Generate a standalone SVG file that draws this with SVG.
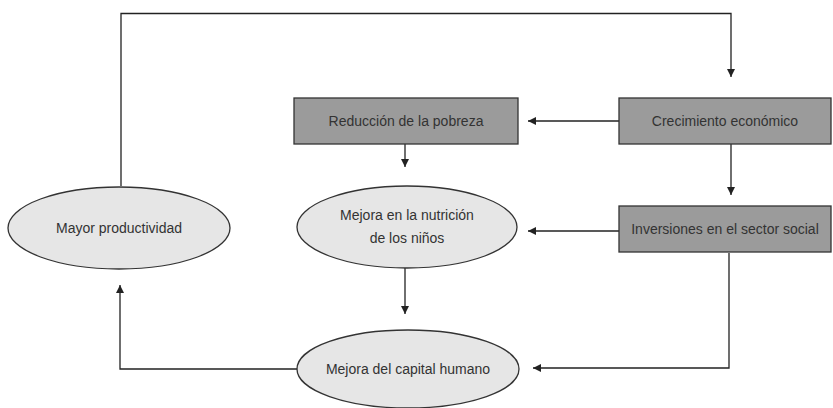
<svg xmlns="http://www.w3.org/2000/svg" width="833" height="408" viewBox="0 0 833 408">
<defs>
<style>
.box{fill:#9b9b9b;stroke:#333;stroke-width:1.3}
.ell{fill:#e6e6e6;stroke:#333;stroke-width:1.3}
.t{font-family:"Liberation Sans",Arial,sans-serif;font-size:14px;fill:#333;text-anchor:middle}
.c{fill:none;stroke:#222;stroke-width:1.3}
</style>
<marker id="ah" viewBox="0 0 10 10" refX="10" refY="5" markerWidth="8" markerHeight="8" markerUnits="userSpaceOnUse" orient="auto">
<path d="M0,0 L10,5 L0,10 Z" fill="#222"/>
</marker>
</defs>
<rect width="833" height="408" fill="#fff"/>
<g id="connectors">
<path class="c" d="M121,186 V13.5 H731 V77" marker-end="url(#ah)"/>
<path class="c" d="M619,121 H528" marker-end="url(#ah)"/>
<path class="c" d="M405,144 V167" marker-end="url(#ah)"/>
<path class="c" d="M731,144 V195" marker-end="url(#ah)"/>
<path class="c" d="M619,231 H528" marker-end="url(#ah)"/>
<path class="c" d="M405,268 V314" marker-end="url(#ah)"/>
<path class="c" d="M729,253 V368 H533" marker-end="url(#ah)"/>
<path class="c" d="M298,369 H120 V285" marker-end="url(#ah)"/>
</g>
<g id="reduccion">
<rect class="box" x="294" y="98" width="224" height="46"/>
<text class="t" x="406" y="126">Reducción de la pobreza</text>
</g>
<g id="crecimiento">
<rect class="box" x="619" y="98" width="212" height="46"/>
<text class="t" x="725" y="126">Crecimiento económico</text>
</g>
<g id="inversiones">
<rect class="box" x="619" y="206" width="212" height="46"/>
<text class="t" x="725" y="234">Inversiones en el sector social</text>
</g>
<g id="productividad">
<ellipse class="ell" cx="119" cy="228" rx="111" ry="41"/>
<text class="t" x="119" y="233">Mayor productividad</text>
</g>
<g id="nutricion">
<ellipse class="ell" cx="407" cy="227" rx="110" ry="41"/>
<text class="t" x="407" y="220">Mejora en la nutrición</text>
<text class="t" x="407" y="243">de los niños</text>
</g>
<g id="capital">
<ellipse class="ell" cx="408" cy="369" rx="111" ry="39"/>
<text class="t" x="408" y="374">Mejora del capital humano</text>
</g>
</svg>
